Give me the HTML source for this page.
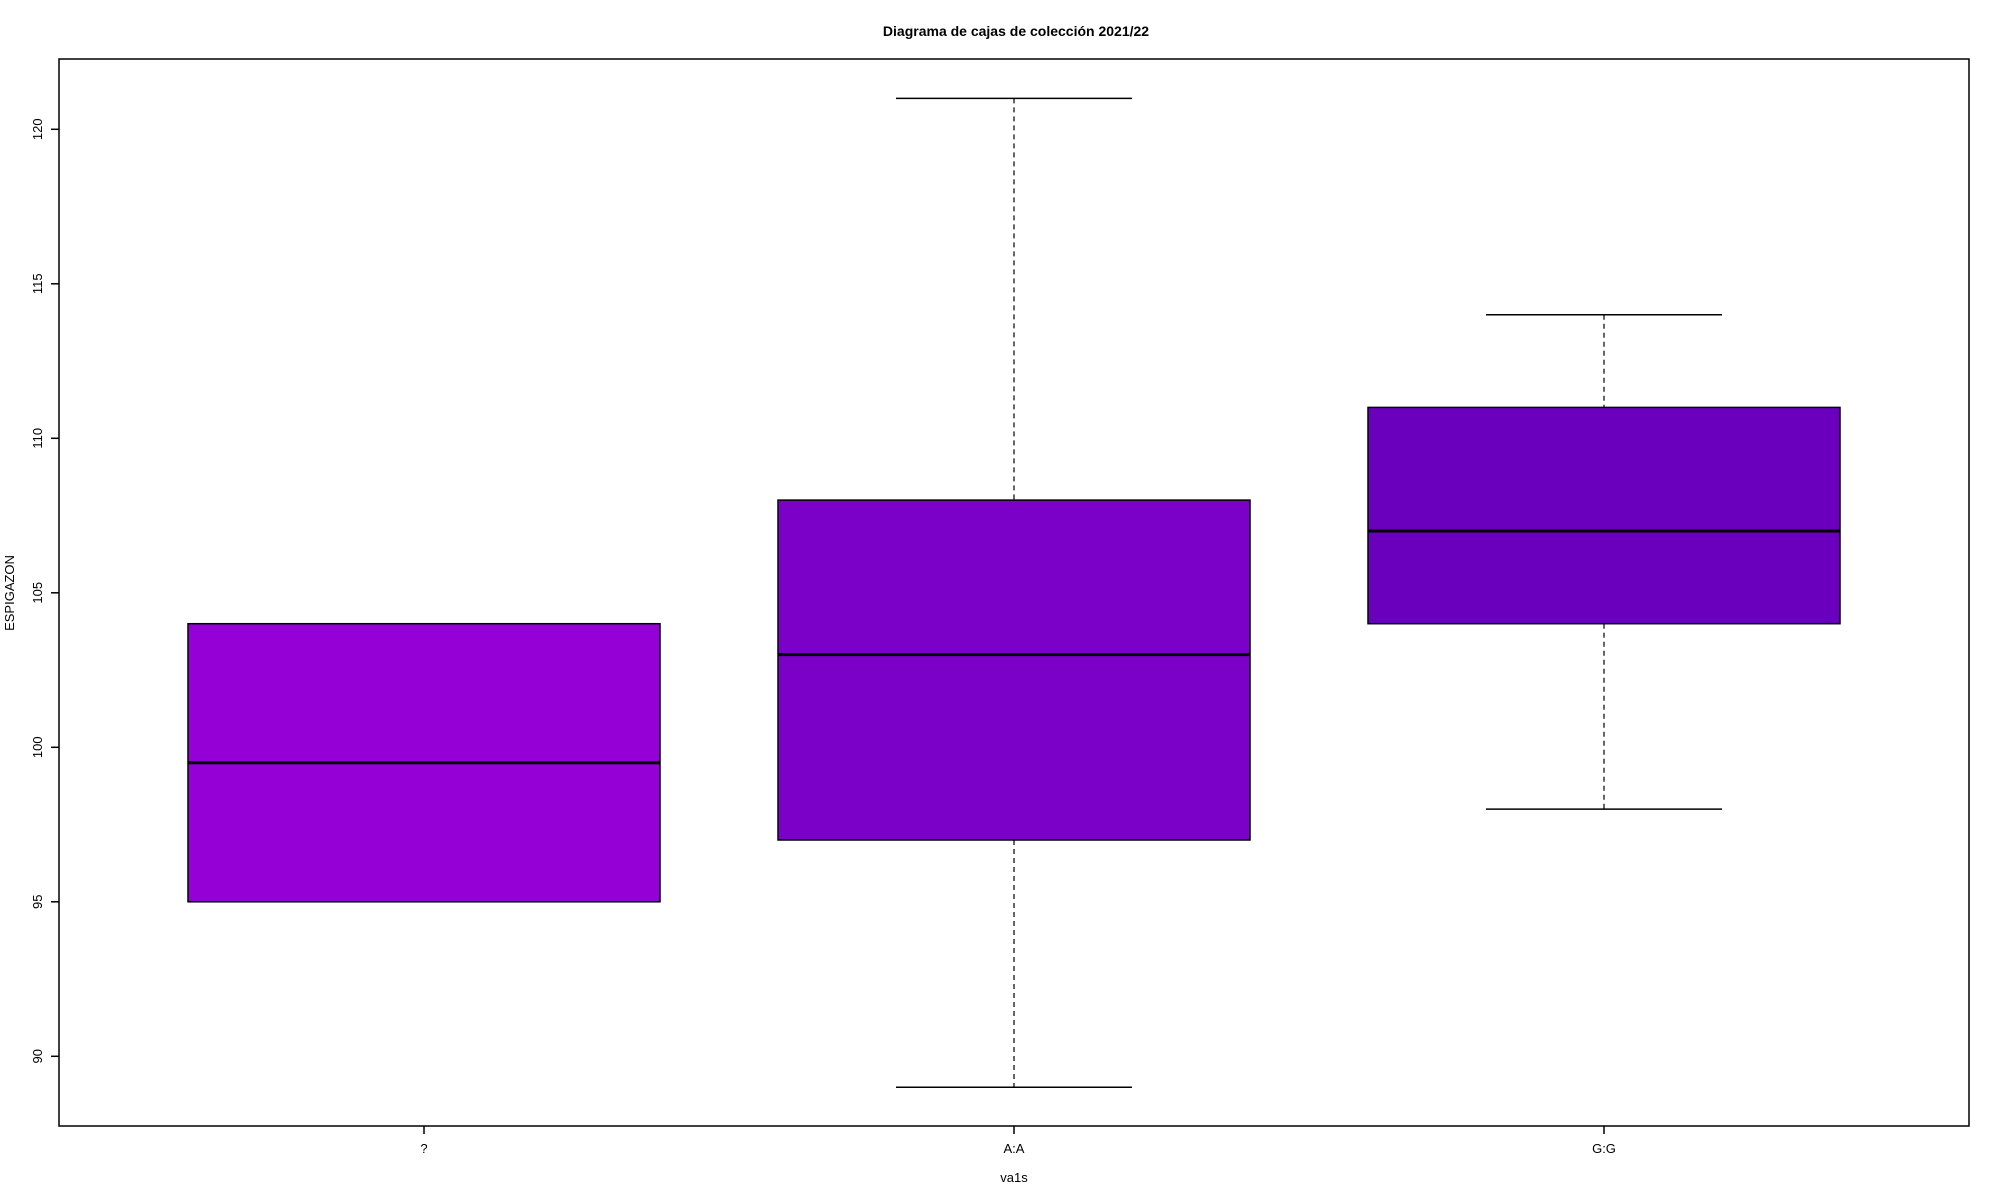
<!DOCTYPE html>
<html><head><meta charset="utf-8"><style>
html,body{margin:0;padding:0;background:#fff;}
svg{display:block;font-family:"Liberation Sans",Arial,sans-serif;}
</style></head><body>
<svg id="chart" width="2000" height="1200" viewBox="0 0 2000 1200" xmlns="http://www.w3.org/2000/svg">
<rect width="2000" height="1200" fill="#fff"/>
<text x="1016" y="36" text-anchor="middle" font-size="14" font-weight="bold">Diagrama de cajas de colección 2021/22</text>
<text x="1014" y="1182" text-anchor="middle" font-size="13">va1s</text>
<text transform="translate(14,593) rotate(-90)" text-anchor="middle" font-size="13">ESPIGAZON</text>
<g id="marks"></g>
<rect x="59" y="59" width="1910" height="1067" fill="none" stroke="#000" stroke-width="1.5"/>
</svg>
<script>
const categories = ["?", "A:A", "G:G"];
const lowWhisker = [95, 89, 98];
const q1Values = [95, 97, 104];
const medianValues = [99.5, 103, 107];
const q3Values = [104, 108, 111];
const highWhisker = [104, 121, 114];
const boxColors = ["#9400D6", "#7B00C8", "#6A00BE"];
const yTicks = [90, 95, 100, 105, 110, 115, 120];

const NS = "http://www.w3.org/2000/svg";
const g = document.getElementById('marks');
function y(v){ return 1056.3 - (v - 90) * 30.9; }
function x(i){ return 424 + i * 590; }
const half = 236;
function mk(tag, attrs, parent){
  const e = document.createElementNS(NS, tag);
  for (const k in attrs) e.setAttribute(k, attrs[k]);
  (parent || g).appendChild(e);
  return e;
}
yTicks.forEach(t => {
  const l = mk('line', {x1:51, x2:59, y1:y(t), y2:y(t), stroke:'#000', 'stroke-width':1.5});
  
  
  const tx = mk('text', {transform:`translate(42,${y(t)}) rotate(-90)`, 'text-anchor':'middle', 'font-size':13});
  tx.textContent = t;
  
  
});
categories.forEach((c, i) => {
  const cx = x(i);
  const grp = mk('g', {});
  
  
  mk('line', {x1:cx, x2:cx, y1:y(highWhisker[i]), y2:y(q3Values[i]), stroke:'#000', 'stroke-width':1.2, 'stroke-dasharray':'5,4'}, grp);
  mk('line', {x1:cx, x2:cx, y1:y(q1Values[i]), y2:y(lowWhisker[i]), stroke:'#000', 'stroke-width':1.2, 'stroke-dasharray':'5,4'}, grp);
  mk('line', {x1:cx-118, x2:cx+118, y1:y(highWhisker[i]), y2:y(highWhisker[i]), stroke:'#000', 'stroke-width':1.5}, grp);
  mk('line', {x1:cx-118, x2:cx+118, y1:y(lowWhisker[i]), y2:y(lowWhisker[i]), stroke:'#000', 'stroke-width':1.5}, grp);
  mk('rect', {x:cx-half, y:y(q3Values[i]), width:2*half, height:y(q1Values[i])-y(q3Values[i]), fill:boxColors[i], stroke:'#000', 'stroke-width':1.5}, grp);
  mk('line', {x1:cx-half, x2:cx+half, y1:y(medianValues[i]), y2:y(medianValues[i]), stroke:'#000', 'stroke-width':3}, grp);
  const tk = mk('line', {x1:cx, x2:cx, y1:1126, y2:1134, stroke:'#000', 'stroke-width':1.5});
  
  
  const lb = mk('text', {x:cx, y:1153, 'text-anchor':'middle', 'font-size':13});
  lb.textContent = c;
  
  
});
</script>
</body></html>
